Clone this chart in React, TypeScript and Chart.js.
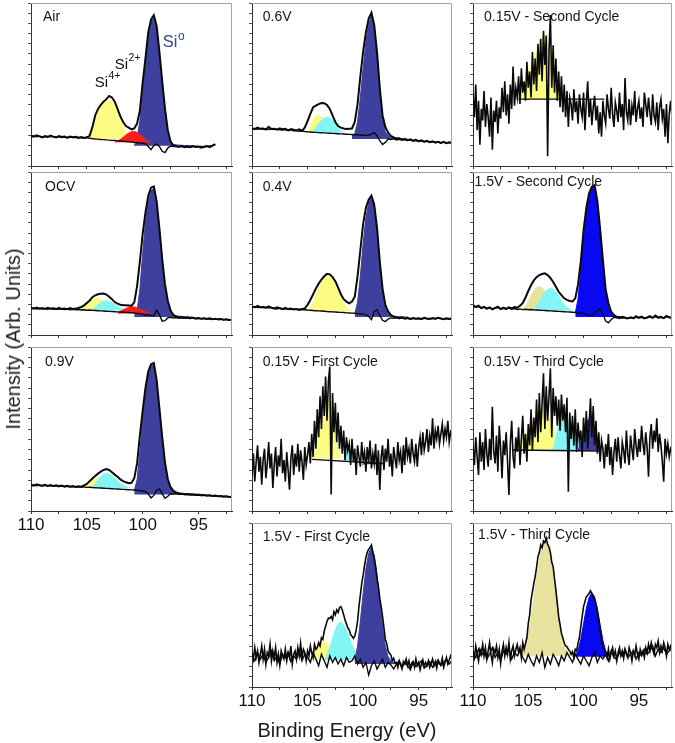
import React, { useEffect, useRef } from "react";
import { Chart, registerables } from "chart.js";
Chart.register(...registerables);

const FONT = '"Liberation Sans", Arial, Helvetica, sans-serif';
Chart.defaults.font.family = FONT;

// ---------- DATA ----------
// Binding-energy grids (eV)
const E: number[] = [110, 109.75, 109.5, 109.25, 109, 108.75, 108.5, 108.25, 108, 107.75, 107.5, 107.25, 107, 106.75, 106.5, 106.25, 106, 105.75, 105.5, 105.25, 105, 104.75, 104.5, 104.25, 104, 103.75, 103.5, 103.25, 103, 102.75, 102.5, 102.25, 102, 101.75, 101.5, 101.25, 101, 100.75, 100.5, 100.25, 100, 99.75, 99.5, 99.25, 99, 98.75, 98.5, 98.25, 98, 97.75, 97.5, 97.25, 97, 96.75, 96.5, 96.25, 96, 95.75, 95.5, 95.25, 95, 94.75, 94.5, 94.25, 94, 93.75, 93.5, 93.25, 93, 92.75, 92.5, 92.25, 92];
const EF: number[] = [
  110, 109.875, 109.75, 109.625, 109.5, 109.375, 109.25, 109.125,
  109, 108.875, 108.75, 108.625, 108.5, 108.375, 108.25, 108.125,
  108, 107.875, 107.75, 107.625, 107.5, 107.375, 107.25, 107.125,
  107, 106.875, 106.75, 106.625, 106.5, 106.375, 106.25, 106.125,
  106, 105.875, 105.75, 105.625, 105.5, 105.375, 105.25, 105.125,
  105, 104.875, 104.75, 104.625, 104.5, 104.375, 104.25, 104.125,
  104, 103.875, 103.75, 103.625, 103.5, 103.375, 103.25, 103.125,
  103, 102.875, 102.75, 102.625, 102.5, 102.375, 102.25, 102.125,
  102, 101.875, 101.75, 101.625, 101.5, 101.375, 101.25, 101.125,
  101, 100.875, 100.75, 100.625, 100.5, 100.375, 100.25, 100.125,
  100, 99.875, 99.75, 99.625, 99.5, 99.375, 99.25, 99.125,
  99, 98.875, 98.75, 98.625, 98.5, 98.375, 98.25, 98.125,
  98, 97.875, 97.75, 97.625, 97.5, 97.375, 97.25, 97.125,
  97, 96.875, 96.75, 96.625, 96.5, 96.375, 96.25, 96.125,
  96, 95.875, 95.75, 95.625, 95.5, 95.375, 95.25, 95.125,
  95, 94.875, 94.75, 94.625, 94.5, 94.375, 94.25, 94.125,
  94, 93.875, 93.75, 93.625, 93.5, 93.375, 93.25, 93.125,
  93, 92.875, 92.75, 92.625, 92.5, 92.375, 92.25, 92.125,
  92];

const X_TICK_LABELS = [110, 105, 100, 95];

// Air
const airRaw = [18.5, 18.0, 18.8, 18.2, 17.6, 18.4, 17.9, 18.6, 18.0, 17.5, 18.3, 17.8, 18.1, 17.4, 18.0, 17.6, 17.9, 17.3, 17.8, 17.2, 17.6, 18.5, 24, 31, 35, 37.5, 39.5, 41, 43, 42, 39.5, 35, 30.5, 27, 24.5, 23.5, 22.5, 23, 26, 34, 51, 66, 82, 90, 92.6, 86, 70, 52, 35, 22, 15, 12.5, 12, 11.8, 12.3, 11.6, 12.0, 11.5, 12.2, 11.7, 11.9, 11.3, 11.8, 12.2, 11.6, 12.5, 13.5, null, null, null, null, null, null];
const airBase = [18.2, 18.5, 18.0, 18.3, 17.8, 18.1, 17.7, 18.2, 17.9, 17.6, 18.0, 17.5, 17.8, 17.3, 17.7, 17.4, 17.6, 17.2, 17.5, 17.1, 17.4, 17.0, 16.8, 16.6, 16.5, 16.3, 16.2, 16.0, 15.9, 15.7, 15.6, 15.4, 15.3, 15.1, 15.0, 14.8, 14.7, 14.5, 14.3, 14.2, 14.0, 13.6, 12.0, 10.0, 12.5, 13.5, 12.0, 9.0, 8.2, 11.0, 12.3, 12.0, 12.2, 11.9, 12.1, 11.8, 12.0, 11.7, 11.9, 12.1, 11.8, 12.0, 11.7, 12.1, 12.3, 12.6, 13.2, null, null, null, null, null, null];
const airSi4 = [16.5, 22, 29, 33.5, 36.5, 38.5, 40, 40.5, 39.5, 36.5, 32.5, 28, 24, 20.5, 18.5, 17.2, 16.5];
const airSi2 = [14.5, 15.2, 16.3, 17.6, 19, 20.2, 21, 21.2, 20.6, 19.4, 17.8, 16.3, 15.2, 14.5];
const airSi0 = [12.5, 17, 28, 46, 62, 79, 88, 91.5, 85, 69, 51, 34, 21, 15, 13.3, 13, 12.8, 12.7, 12.6, 12.6, 12.5, 12.5];

// OCV
const ocvRaw = [16.6, 16.2, 16.8, 16.1, 16.5, 16.0, 16.7, 16.2, 16.4, 15.9, 16.6, 16.0, 16.3, 15.8, 16.5, 16.0, 16.2, 16.6, 17.2, 18.2, 19.6, 21.2, 23.2, 24.3, 25.0, 25.3, 25.4, 24.8, 23.5, 22, 20.2, 19.2, 18.6, 18.3, 18.2, 18.1, 18.0, 20, 30, 45, 62, 75, 85.5, 90.4, 91.2, 82, 65.4, 46.5, 31, 21, 15, 12.3, 11.2, 10.8, 11.0, 10.5, 10.7, 10.3, 10.6, 10.2, 10.4, 10.0, 10.3, 9.9, 10.2, 9.7, 10.0, 9.6, 9.8, 9.4, 9.7, 9.2, 9.4];
const ocvBase = [16.2, 16.5, 16.0, 16.4, 15.9, 16.3, 15.8, 16.2, 15.8, 16.1, 15.7, 16.0, 15.6, 15.9, 15.5, 15.8, 15.4, 15.6, 15.3, 15.5, 15.2, 15.3, 15.1, 15.0, 14.9, 14.8, 14.7, 14.6, 14.5, 14.4, 14.3, 14.2, 14.1, 14.0, 13.9, 13.8, 13.7, 13.5, 13.3, 13.1, 12.8, 12.3, 12.5, 12.0, 11.8, 15.2, 12.5, 8.5, 8.8, 10.5, 10.8, 10.4, 10.7, 10.3, 10.6, 10.2, 10.5, 10.1, 10.4, 10.0, 10.3, 9.9, 10.2, 9.8, 10.0, 9.6, 9.9, 9.5, 9.7, 9.3, 9.6, 9.1, 9.3];
const ocvSi4 = [15.5, 16, 16.8, 17.8, 19, 20.3, 21.5, 22.3, 22.5, 22, 21, 19.5, 18, 16.8, 16, 15.5];
const ocvSix = [15, 15.8, 17, 18.5, 19.8, 20.7, 21, 20.6, 19.8, 18.8, 17.6, 16.6, 15.8, 15.2, 15];
const ocvSi2 = [13.2, 14.5, 15.5, 16.3, 17, 17.4, 17.2, 16.6, 15.8, 15, 14.2, 13.6, 13.2];
const ocvSi0 = [11.5, 15, 28, 50, 69, 82, 88.5, 90, 81, 64, 45, 29.5, 19.5, 14, 12.3, 11.8, 11.6, 11.4, 11.3, 11.2, 11.1, 11.0];

// 0.9V
const v09Raw = [15.9, 15.5, 16.2, 15.7, 15.4, 16.0, 15.3, 15.8, 15.2, 15.7, 15.1, 15.5, 15.0, 15.4, 14.8, 15.2, 14.7, 15.1, 14.8, 15.6, 16.5, 18.2, 19.8, 21.3, 22.8, 24, 25, 25.6, 25, 23.6, 22.2, 20.9, 19.3, 18.2, 17.5, 17.0, 17.2, 20, 29, 46, 61, 75, 85, 89.5, 90.3, 80, 62.6, 45, 29.5, 19.5, 14.5, 12.3, 11.3, 10.7, 10.5, 10.2, 10.4, 10.0, 10.1, 9.8, 9.9, 9.6, 9.8, 9.4, 9.6, 9.2, 9.4, 9.0, 9.1, 8.8, 9.0, 8.6, 8.7];
const v09Base = [15.6, 15.9, 15.4, 15.8, 15.3, 15.7, 15.2, 15.5, 15.1, 15.4, 14.9, 15.2, 14.8, 15.1, 14.7, 14.9, 14.6, 14.8, 14.5, 14.7, 14.4, 14.5, 14.3, 14.2, 14.1, 14.0, 13.9, 13.8, 13.7, 13.6, 13.5, 13.4, 13.3, 13.2, 13.1, 13.0, 12.9, 12.8, 12.6, 12.4, 12.2, 11.8, 10.5, 8.0, 9.5, 12.5, 13.5, 10.5, 7.8, 9.0, 10.5, 10.3, 10.6, 10.2, 10.4, 10.0, 10.2, 9.8, 10.0, 9.7, 9.8, 9.5, 9.7, 9.3, 9.5, 9.1, 9.3, 8.9, 9.0, 8.7, 8.9, 8.5, 8.6];
const v09Si4 = [14.5, 15.3, 16.5, 17.8, 19, 19.8, 19.9, 19.3, 18.3, 17, 15.8, 15, 14.5];
const v09Six = [14, 15, 16.8, 19, 21, 22.5, 23, 22.6, 21.5, 20, 18.4, 17, 15.8, 14.8, 14.2, 14];
const v09Si0 = [12.5, 19, 36, 56, 72, 83, 88.5, 89.5, 79, 61, 43, 28, 18.5, 13.8, 12, 11.3, 11, 10.8, 10.7, 10.6, 10.5, 10.4, 10.3, 10.2, 10.1, 10];

// 0.6V
const v06Raw = [23.2, 22.6, 23.5, 22.8, 23.0, 22.4, 24.0, 22.7, 22.9, 22.3, 23.1, 22.5, 22.8, 21.9, 22.6, 22.2, 21.8, 22.5, 21.6, 23.5, 27.5, 32, 36, 37, 38, 38.6, 38.5, 37.5, 35, 31, 27, 24.5, 23.5, 23, 22.7, 22.9, 23, 27, 38, 55, 70, 82, 90.5, 94, 86.5, 70, 48, 31, 24, 20.5, 18.5, 17.5, 16.8, 17.0, 16.2, 16.6, 15.8, 16.3, 15.5, 16.0, 15.2, 15.8, 14.9, 15.4, 14.6, 15.1, 14.4, 14.9, 14.2, 14.8, 14.0, 14.5, 14.3];
const v06Base = [22.8, 23.1, 22.5, 23.0, 22.6, 22.9, 22.4, 22.7, 22.3, 22.6, 22.2, 22.0, 22.3, 21.8, 22.0, 21.6, 21.7, 21.3, 21.5, 21.2, 21.0, 20.9, 20.7, 20.6, 20.5, 20.4, 20.3, 20.2, 20.1, 20.0, 19.9, 19.8, 19.7, 19.6, 19.5, 19.4, 19.3, 19.2, 19.1, 19.0, 18.9, 18.8, 18.9, 19.5, 20.5, 18.5, 15.5, 13.2, 14.5, 16.5, 16.2, 16.6, 16.0, 16.4, 15.9, 16.2, 15.6, 16.0, 15.4, 15.8, 15.0, 15.5, 14.8, 15.2, 14.5, 14.9, 14.3, 14.7, 14.1, 14.6, 14.0, 14.4, 14.2];
const v06Si4 = [20.8, 24, 28.5, 31, 31.5, 30, 27.5, 24.5, 22.5, 21.3, 20.8];
const v06Six = [20.5, 21.5, 23.5, 26, 28, 29.5, 30, 29.5, 28, 26, 23.5, 21.5, 20.5];
const v06Si0 = [18.5, 20, 27, 42, 60, 76, 87, 92.5, 85.5, 68, 46, 29, 21, 18.8, 18, 17.6, 17.3, 17, 16.8, 16.6, 16.5];

// 0.4V
const v04Raw = [17.4, 17.0, 17.8, 16.9, 17.3, 16.6, 17.5, 16.8, 16.2, 17.0, 16.4, 15.8, 16.6, 15.9, 16.3, 15.6, 16.0, 15.4, 15.9, 16.3, 18.5, 21.5, 25, 28.6, 31.5, 34, 36, 37.5, 37.2, 35.5, 33, 29, 25, 22, 20.5, 19.4, 20.5, 23.5, 36, 52, 68, 78, 83, 85.5, 80, 66, 45, 28.5, 18.5, 14.5, 12.3, 11.2, 10.8, 10.3, 10.7, 10.1, 10.5, 9.9, 10.4, 10.0, 10.3, 9.8, 10.5, 10.1, 9.9, 10.4, 10.0, 10.6, 10.2, 9.7, 10.3, 9.9, 10.1];
const v04Base = [17.0, 17.4, 16.8, 17.2, 16.7, 17.1, 16.5, 16.9, 16.4, 16.0, 16.5, 16.1, 15.9, 16.2, 15.7, 16.0, 15.6, 15.8, 15.4, 15.5, 15.3, 15.2, 15.0, 14.9, 14.8, 14.7, 14.6, 14.4, 14.3, 14.2, 14.1, 14.0, 13.9, 13.8, 13.6, 13.5, 13.4, 13.3, 13.1, 13.0, 12.8, 12.5, 11.5, 9.5, 14.5, 15.5, 12.0, 9.0, 8.2, 9.8, 10.5, 10.2, 10.6, 10.1, 10.5, 10.0, 10.3, 9.8, 10.2, 9.9, 10.1, 9.7, 10.3, 9.9, 9.8, 10.2, 9.9, 10.4, 10.0, 9.6, 10.1, 9.8, 10.0];
const v04Si4 = [14.5, 16.5, 20, 24.5, 28.5, 32, 34.5, 36, 36.3, 35, 32, 27.5, 23, 19.5, 17, 15.5, 14.8, 14.5];
const v04Si0 = [13, 20, 36, 56, 72, 81, 84.5, 79, 65, 44, 27, 17.5, 13.5, 12, 11.6, 11.4, 11.3, 11.2, 11.1, 11];

// 0.15V - First Cycle
const c1lowRaw = [
  22, 35, 18, 30, 40, 24, 33, 16,
  31, 38, 20, 29, 42, 26, 35, 14,
  28, 39, 21, 34, 27, 44, 23, 31,
  18, 36, 25, 13, 32, 40, 22, 35,
  27, 41, 24, 37, 30, 19, 39, 28,
  34, 42, 29, 47, 33, 55, 38, 62,
  45, 70, 50, 76, 58, 82, 55, 79,
  88, 10, 72, 48, 66, 42, 60, 38,
  52, 35, 49, 31, 45, 37, 41, 28,
  44, 30, 38, 22, 40, 33, 27, 42,
  31, 36, 24, 39, 30, 43, 26, 35,
  29, 41, 22, 37, 12.8, 33, 40, 25,
  38, 30, 44, 27, 35, 21, 39, 32,
  26, 42, 31, 36, 23, 40, 28, 45,
  33, 38, 29, 44, 35, 30, 41, 27,
  39, 45, 34, 48, 37, 42, 50, 36,
  46, 40, 56.5, 38, 49, 44, 52, 41,
  47, 53, 43, 50, 45, 55, 42, 48,
  46];
const c1lowBaseE = [104.6, 98.2];
const c1lowBase = [31.5, 29];
const c1lowSi4 = [32, 37, 45, 53, 60, 66, 67.5, 60, 48, 38, 32];
const c1lowSix = [31, 40, 36, 31];
const c1lowSi0 = [28.5, 29.5, 30, 29.8, 29.3, 28.8, 28.5];

// 1.5V - First Cycle
const c1highRaw = [
  21, 17, 24, 18, 22, 15, 20, 25,
  17, 23, 14, 21, 19, 26, 16, 22,
  18, 24, 15, 20, 13.5, 22, 19, 17,
  23, 16, 21, 18, 25, 14, 20, 22,
  17, 24, 19, 26.6, 18, 23, 21, 16,
  22, 19, 25, 21, 18, 26, 23, 24,
  27, 25, 30, 29, 34, 37, 40, 42,
  41.9, 43, 41, 45.9, 44, 47, 45.5, 48.5,
  49, 47, 44, 40.9, 38.5, 36, 34.8, 32,
  31, 29.7, 31, 34.8, 40, 49, 56, 63.2,
  68, 74, 79, 82, 84, 85, 86.5, 82,
  78.4, 73, 66, 61.2, 54, 49, 42.9, 36,
  29, 26.6, 22, 20.5, 19.5, 16, 17.5, 14.5,
  15, 12, 16, 13.5, 11, 15.5, 14, 17,
  13, 16, 11.5, 14.5, 15.5, 12, 17, 13,
  15, 10.5, 14, 16.5, 12.5, 15, 13, 16,
  12, 14.5, 17, 13, 15.5, 11.5, 16, 14,
  13.5, 17.5, 12, 15, 18, 14, 16.5, 19,
  17];
const c1highBase = [19, 16, 21, 17, 20, 15, 18, 22, 16, 19, 14, 20, 18, 21, 15.5, 19, 17, 22, 16, 20, 18, 15, 21, 17, 13, 20, 16, 12, 19, 15, 18, 14, 17, 13, 18, 15, 16, 19, 14, 17, 12, 15, 7.3, 13, 16, 11, 14, 17, 12, 15, 13.5, 11, 14, 16, 12, 15, 13, 10.5, 15, 12.5, 14, 16, 11.5, 13, 15.5, 12, 14, 16.5, 13, 15, 17, 14, 16];
const c1highSi4 = [17.5, 19.5, 22.5, 25.5, 27.2, 27.6, 26.5, 24.5, 22, 19.8, 18.3, 17.5];
const c1highSix = [16.5, 19.5, 24, 29.5, 35, 38.5, 39.8, 38, 34.5, 30, 26, 22.5, 20, 18.2, 17.2, 16.7, 16.5];
const c1highSi0 = [16, 25, 40, 57, 72, 81.5, 85, 80.5, 69, 53, 37, 25, 18.5, 15.8, 14.8, 14.4, 14.2, 14];

// 0.15V - Second Cycle
const c2lowRaw = [
  44, 30, 50, 22, 40, 13, 35, 28,
  46, 24, 38, 30, 18, 42, 10, 34,
  27, 40, 20, 36, 29, 48, 33, 52,
  31, 44, 26, 50, 35, 61, 37, 48,
  42, 55, 38, 60, 45, 52, 40, 64,
  48, 58, 42, 70, 50, 66, 46, 75,
  56, 78, 52, 83, 62, 80, 6, 70,
  92.6, 48, 74, 45, 66, 40, 58, 36,
  55, 33, 50, 30, 46, 24, 42, 38,
  28, 47, 33, 40, 26, 44, 35, 30,
  45, 22, 39, 52, 30, 41, 25, 36,
  43, 28, 37, 20, 33, 18, 40, 31,
  26, 44, 35, 29, 48, 32, 24, 39,
  34, 27, 45, 30, 38, 22, 54, 33,
  28, 41, 25, 37, 31, 46, 27, 35,
  40, 29, 36, 24, 45, 38, 30, 42,
  33, 25, 44, 31, 27, 39, 22, 36,
  41, 29, 35, 18, 38, 14, 32, 40,
  30];
const c2lowBaseE = [105.9, 98.1];
const c2lowBase = [41, 41];
const c2lowSi4 = [41, 44, 48, 52.5, 57, 61.5, 66, 70.5, 75, 79, 81, 75, 66, 57, 49, 43, 41];

// 1.5V - Second Cycle
const c2highRaw = [18.4, 17.2, 18.0, 16.5, 17.3, 16.2, 16.9, 15.8, 16.6, 17.4, 15.9, 16.8, 16.0, 16.9, 16.3, 17.2, 16.8, 17.9, 19.6, 23, 27, 30.5, 33.5, 35.5, 36.8, 37.4, 37.8, 36.8, 35, 32.5, 29.6, 26.5, 24.5, 22.5, 21.5, 20.8, 20.6, 22.5, 31, 45, 64, 78, 87, 91, 92, 82, 65, 46, 28, 19.5, 14.3, 12.2, 11.0, 10.4, 11.2, 10.6, 10.1, 10.9, 10.3, 11.5, 10.6, 11.3, 10.2, 10.8, 11.6, 10.5, 11.9, 10.7, 11.2, 10.4, 11.7, 10.9, 10.5];
const c2highBase = [17.8, 17.0, 17.5, 16.4, 17.1, 16.3, 16.7, 15.9, 16.5, 16.9, 16.0, 16.4, 15.9, 16.5, 15.8, 16.2, 15.7, 16.0, 15.6, 15.8, 15.5, 15.6, 15.4, 15.3, 15.2, 15.1, 15.0, 14.9, 14.8, 14.7, 14.6, 14.5, 14.4, 14.3, 14.2, 14.1, 14.0, 13.8, 13.6, 13.4, 13.2, 12.8, 11.8, 12.0, 13.5, 15.0, 16.2, 13.0, 8.5, 7.5, 9.5, 10.8, 10.5, 11.0, 10.3, 10.8, 10.2, 10.7, 10.1, 11.0, 10.4, 10.9, 10.2, 10.6, 11.1, 10.4, 11.3, 10.6, 10.9, 10.3, 11.2, 10.7, 10.4];
const c2highSi4 = [15.5, 17.5, 20.5, 24, 27, 29, 29.6, 29, 27.2, 24.5, 21.5, 19, 17.2, 16, 15.5];
const c2highSix = [15, 16, 18, 20.5, 23.5, 26.3, 28, 28.6, 28, 26.3, 23.8, 21, 18.6, 16.8, 15.6, 15];
const c2highSi0 = [13.5, 22, 40, 60, 76, 86, 90.5, 91, 81, 63, 44, 27, 17.5, 13.5, 12, 11.5, 11.2, 11.1, 11];

// 0.15V - Third Cycle
const c3lowRaw = [
  40, 28, 45, 33, 22, 48, 30, 42,
  25, 50, 35, 27, 44, 31, 63.6, 36,
  29, 46, 24, 52, 38, 20, 43, 34,
  48, 30, 9.8, 41, 55, 33, 26, 45,
  36, 51, 28, 44, 58, 35, 47, 30,
  53, 40, 62, 37, 57, 45, 68, 42,
  72, 48, 66, 84, 50, 76, 55, 70,
  87, 45, 75, 58, 70, 52, 68, 49,
  71, 55, 65, 48, 69, 11.8, 60, 44,
  58, 40, 62, 36, 54, 43, 49, 33,
  57, 42, 61, 38, 52, 68.7, 45, 64,
  40, 55, 35, 48, 30, 43, 38, 26,
  41, 33, 47, 28, 39, 22, 36, 44,
  30, 45, 34, 26, 42, 37, 29, 49,
  35, 28, 46, 38, 31, 50, 40, 33,
  44, 36, 52, 41, 34, 48, 39, 20.9,
  45, 53, 38, 49, 42, 56.5, 36, 47,
  40, 30, 17.9, 44, 35, 41, 33, 38,
  36];
const c3lowBaseE = [106.4, 98.6];
const c3lowBase = [37.2, 36.6];
const c3lowSi4 = [37, 38.5, 40.5, 42.5, 44.5, 46.5, 49, 51.5, 54, 56.5, 59, 61, 62.6, 59, 55, 51, 47.5, 44, 41, 39, 37.5, 37];
const c3lowSix = [37, 45, 53, 58, 60.5, 58, 54, 50, 46, 43, 40, 38, 37];
const c3lowSi0 = [37, 42, 48, 54, 56.5, 53, 47, 41, 37];

// 1.5V - Third Cycle
const c3highRaw = [
  22, 18, 25, 20, 16, 23, 21, 26,
  19, 24, 17, 22, 27, 20, 15, 23,
  21, 25, 18, 23, 14.5, 22, 26, 19,
  24, 20, 27, 17, 22, 25, 19, 23,
  26, 21, 24, 18, 27, 23, 26.6, 30,
  38.8, 44, 53, 58, 63, 67.3, 73, 79.5,
  82, 86.6, 85, 89, 88, 90.7, 87, 85.4,
  82, 76, 73.4, 66, 59.1, 51, 42.9, 38,
  32.7, 30, 27, 25, 24.6, 23, 22, 20,
  21.5, 18, 23, 22, 26.6, 30, 36.8, 43,
  49, 52, 55, 56, 57, 58.7, 57, 55,
  53, 50, 45, 40.9, 35, 28.7, 25, 22,
  21.5, 18, 23, 17, 21, 24, 19, 22,
  16, 21, 24, 19, 22, 17.5, 23, 20,
  18, 24, 21, 16, 22, 19.5, 25, 20,
  17, 23, 20, 22, 18, 24, 21, 26,
  22, 27, 23, 20, 26, 24, 28, 21,
  25, 22, 27, 24, 19, 26, 23, 25,
  22];
const c3highBase = [21, 18, 23, 19, 22, 17, 20, 24, 18, 21, 16, 22, 20, 23, 17, 21, 19, 22, 18, 15, 20, 16, 13, 19, 15, 21, 12, 18, 14, 20, 17, 13, 19, 16, 21, 18, 15, 20, 17, 14, 19, 16, 13, 18, 21, 15, 19, 17, 20, 16, 22, 18, 17, 21, 19, 23, 18, 20, 22, 17, 21, 19, 23, 20, 22, 25, 19, 23, 21, 24, 20, 22, 23];
const c3highSi4 = [19, 21, 25, 32, 42, 54, 66, 77, 85, 88.5, 87.5, 81, 70, 56, 43, 32, 25, 21.5, 19.8, 19];
const c3highSi0 = [19, 22, 29, 38.5, 48, 54.5, 57.5, 55, 48, 38, 28.5, 22, 19.5, 18.5];

// ---------- STYLE / LAYOUT ----------
const C = {
  navy: "#3d409f",
  yellow: "#fcfc82",
  cyan: "#84f5f5",
  red: "#ff1c1c",
  khaki: "#e7e29d",
  blue: "#0808f2",
};

type Comp = { start: number; base: number; vals: number[]; color: string };
type Note = { e: number; v: number; text: string; sup: string; size: number; supSize: number; rise: number; color: string };
type PanelCfg = {
  title: string; tx: number; ty: number;
  left: number; top: number; w: number; h: number; labels: boolean;
  grid: number[]; raw: (number | null)[]; rawWidth: number;
  baseX: number[] | null; baseY: (number | null)[] | null;
  comps: Comp[]; notes?: Note[];
};

const COLX = [31, 252, 473];
const COLW = [201, 200, 199];
const ROWY = [3, 172, 347, 523];
const ROWH = [163, 163, 164, 164];

const SMOOTH_W = 2;
const NOISY_W = 1.6;

const PANELS: PanelCfg[] = [
  {
    title: "Air", tx: 12, ty: 14, left: COLX[0], top: ROWY[0], w: COLW[0], h: ROWH[0], labels: false,
    grid: E, raw: airRaw, rawWidth: SMOOTH_W, baseX: E, baseY: airBase,
    comps: [
      { start: 102.5, base: 14.5, vals: airSi2, color: C.red },
      { start: 100.75, base: 12.5, vals: airSi0, color: C.navy },
      { start: 104.75, base: 16.5, vals: airSi4, color: C.yellow },
    ],
    notes: [
      { e: 104.3, v: 48.3, text: "Si", sup: "4+", size: 15, supSize: 10.5, rise: 8, color: "#111" },
      { e: 102.5, v: 59.3, text: "Si", sup: "2+", size: 15, supSize: 10.5, rise: 8, color: "#111" },
      { e: 98.2, v: 73.2, text: "Si", sup: "o", size: 16.5, supSize: 12, rise: 7, color: "#2b4a8c" },
    ],
  },
  {
    title: "OCV", tx: 14, ty: 15.5, left: COLX[0], top: ROWY[1], w: COLW[0], h: ROWH[1], labels: false,
    grid: E, raw: ocvRaw, rawWidth: SMOOTH_W, baseX: E, baseY: ocvBase,
    comps: [
      { start: 102.25, base: 13.2, vals: ocvSi2, color: C.red },
      { start: 100.75, base: 11, vals: ocvSi0, color: C.navy },
      { start: 104.75, base: 15, vals: ocvSix, color: C.cyan },
      { start: 106, base: 15.5, vals: ocvSi4, color: C.yellow },
    ],
  },
  {
    title: "0.9V", tx: 14, ty: 14.7, left: COLX[0], top: ROWY[2], w: COLW[0], h: ROWH[2], labels: true,
    grid: E, raw: v09Raw, rawWidth: SMOOTH_W, baseX: E, baseY: v09Base,
    comps: [
      { start: 100.75, base: 10, vals: v09Si0, color: C.navy },
      { start: 104.75, base: 14, vals: v09Six, color: C.cyan },
      { start: 105.5, base: 14.5, vals: v09Si4, color: C.yellow },
    ],
  },
  {
    title: "0.6V", tx: 10.7, ty: 13.7, left: COLX[1], top: ROWY[0], w: COLW[1], h: ROWH[0], labels: false,
    grid: E, raw: v06Raw, rawWidth: SMOOTH_W, baseX: E, baseY: v06Base,
    comps: [
      { start: 101, base: 16.5, vals: v06Si0, color: C.navy },
      { start: 104.75, base: 20.5, vals: v06Six, color: C.cyan },
      { start: 105, base: 20.8, vals: v06Si4, color: C.yellow },
    ],
  },
  {
    title: "0.4V", tx: 10.7, ty: 14.7, left: COLX[1], top: ROWY[1], w: COLW[1], h: ROWH[1], labels: false,
    grid: E, raw: v04Raw, rawWidth: SMOOTH_W, baseX: E, baseY: v04Base,
    comps: [
      { start: 100.75, base: 11, vals: v04Si0, color: C.navy },
      { start: 105, base: 14.5, vals: v04Si4, color: C.yellow },
    ],
  },
  {
    title: "0.15V - First Cycle", tx: 10.7, ty: 14.7, left: COLX[1], top: ROWY[2], w: COLW[1], h: ROWH[2], labels: false,
    grid: EF, raw: c1lowRaw, rawWidth: NOISY_W, baseX: c1lowBaseE, baseY: c1lowBase,
    comps: [
      { start: 100, base: 28.5, vals: c1lowSi0, color: C.navy },
      { start: 101.75, base: 31, vals: c1lowSix, color: C.cyan },
      { start: 104.5, base: 32, vals: c1lowSi4, color: C.yellow },
    ],
  },
  {
    title: "1.5V - First Cycle", tx: 10.7, ty: 14, left: COLX[1], top: ROWY[3], w: COLW[1], h: ROWH[3], labels: true,
    grid: EF, raw: c1highRaw, rawWidth: NOISY_W, baseX: E, baseY: c1highBase,
    comps: [
      { start: 100.75, base: 14, vals: c1highSi0, color: C.navy },
      { start: 103.5, base: 16.5, vals: c1highSix, color: C.cyan },
      { start: 104.75, base: 17.5, vals: c1highSi4, color: C.yellow },
    ],
  },
  {
    title: "0.15V - Second Cycle", tx: 11, ty: 14, left: COLX[2], top: ROWY[0], w: COLW[2], h: ROWH[0], labels: false,
    grid: EF, raw: c2lowRaw, rawWidth: NOISY_W, baseX: c2lowBaseE, baseY: c2lowBase,
    comps: [{ start: 106, base: 41, vals: c2lowSi4, color: C.yellow }],
  },
  {
    title: "1.5V - Second Cycle", tx: 1.5, ty: 10.3, left: COLX[2], top: ROWY[1], w: COLW[2], h: ROWH[1], labels: false,
    grid: E, raw: c2highRaw, rawWidth: SMOOTH_W, baseX: E, baseY: c2highBase,
    comps: [
      { start: 100.75, base: 11, vals: c2highSi0, color: C.blue },
      { start: 104.75, base: 15, vals: c2highSix, color: C.cyan },
      { start: 105.5, base: 15.5, vals: c2highSi4, color: C.khaki },
    ],
  },
  {
    title: "0.15V - Third Cycle", tx: 11, ty: 14.7, left: COLX[2], top: ROWY[2], w: COLW[2], h: ROWH[2], labels: false,
    grid: EF, raw: c3lowRaw, rawWidth: NOISY_W, baseX: c3lowBaseE, baseY: c3lowBase,
    comps: [
      { start: 100.5, base: 37, vals: c3lowSi0, color: C.navy },
      { start: 102.75, base: 37, vals: c3lowSix, color: C.cyan },
      { start: 106.5, base: 37, vals: c3lowSi4, color: C.yellow },
    ],
  },
  {
    title: "1.5V - Third Cycle", tx: 5, ty: 12, left: COLX[2], top: ROWY[3], w: COLW[2], h: ROWH[3], labels: true,
    grid: EF, raw: c3highRaw, rawWidth: NOISY_W, baseX: E, baseY: c3highBase,
    comps: [
      { start: 100.75, base: 18.5, vals: c3highSi0, color: C.blue },
      { start: 105.75, base: 19, vals: c3highSi4, color: C.khaki },
    ],
  },
];

function pts(xs: number[], ys: (number | null)[]) {
  return ys.map((y, i) => ({ x: xs[i], y }));
}
function compPts(start: number, vals: number[]) {
  const i0 = E.indexOf(start);
  return vals.map((v, k) => ({ x: E[i0 + k], y: v }));
}

const PAD_L = 18, PAD_R = 14, PAD_T = 2;

function Panel({ p }: { p: PanelCfg }) {
  const ref = useRef<HTMLCanvasElement | null>(null);
  const axisH = p.labels ? 30 : 5;
  const cw = p.w + PAD_L + PAD_R;
  const ch = p.h + PAD_T + axisH;
  useEffect(() => {
    const datasets: any[] = [];
    datasets.push({ data: pts(p.grid, p.raw), borderColor: "#0a0a0a", borderWidth: p.rawWidth, pointRadius: 0, fill: false, spanGaps: false });
    if (p.baseX && p.baseY) {
      datasets.push({ data: pts(p.baseX, p.baseY), borderColor: "#0a0a0a", borderWidth: 1.4, pointRadius: 0, fill: false, spanGaps: false });
    }
    for (const c of p.comps) {
      datasets.push({ data: compPts(c.start, c.vals), borderColor: c.color, borderWidth: 1, backgroundColor: c.color, fill: { value: c.base }, pointRadius: 0 });
    }
    const decor = {
      id: "decor",
      afterDraw(chart: any) {
        const ctx = chart.ctx;
        const a = chart.chartArea;
        ctx.save();
        ctx.strokeStyle = "#a3a3a3";
        ctx.lineWidth = 1;
        ctx.beginPath();
        ctx.moveTo(a.left, a.top + 0.5);
        ctx.lineTo(a.right - 0.5, a.top + 0.5);
        ctx.lineTo(a.right - 0.5, a.bottom);
        ctx.stroke();
        ctx.fillStyle = "#151515";
        ctx.font = `14px ${FONT}`;
        ctx.textBaseline = "middle";
        ctx.textAlign = "left";
        ctx.fillText(p.title, a.left + p.tx, a.top + p.ty);
        for (const n of p.notes || []) {
          const x = chart.scales.x.getPixelForValue(n.e);
          const y = chart.scales.y.getPixelForValue(n.v);
          ctx.fillStyle = n.color;
          ctx.textBaseline = "alphabetic";
          ctx.font = `${n.size}px ${FONT}`;
          ctx.fillText(n.text, x, y);
          const w = ctx.measureText(n.text).width;
          ctx.font = `${n.supSize}px ${FONT}`;
          ctx.fillText(n.sup, x + w + 0.5, y - n.rise);
        }
        ctx.restore();
      },
    };
    const chart = new Chart(ref.current as HTMLCanvasElement, {
      type: "line",
      data: { datasets },
      options: {
        animation: false,
        responsive: false,
        maintainAspectRatio: false,
        events: [],
        layout: { padding: { left: PAD_L - 4, right: PAD_R, top: PAD_T, bottom: 0 } },
        plugins: { legend: { display: false }, tooltip: { enabled: false }, title: { display: false } },
        elements: { line: { tension: 0 } },
        scales: {
          x: {
            type: "linear",
            reverse: true,
            min: 92,
            max: 110,
            border: { display: true, color: "#333", width: 1 },
            grid: { display: true, drawOnChartArea: false, drawTicks: true, tickLength: 3, color: "#333" },
            ticks: {
              display: p.labels,
              stepSize: 2.5,
              includeBounds: false,
              autoSkip: false,
              maxRotation: 0,
              padding: 1,
              color: "#111",
              font: { size: 17, family: FONT },
              callback: (v: any) => (X_TICK_LABELS.includes(Number(v)) ? String(v) : ""),
            },
            afterFit: (s: any) => { s.height = axisH; },
          },
          y: {
            type: "linear",
            min: 0,
            max: 100,
            border: { display: true, color: "#333", width: 1 },
            grid: { display: true, drawOnChartArea: false, drawTicks: true, tickLength: 3, color: "#555" },
            ticks: { display: false, stepSize: 6.25 },
            afterFit: (s: any) => { s.width = 4; },
          },
        },
      },
      plugins: [decor],
    } as any);
    return () => chart.destroy();
  }, []);
  return (
    <canvas
      ref={ref}
      width={cw}
      height={ch}
      style={{ position: "absolute", left: p.left - PAD_L, top: p.top - PAD_T, width: cw, height: ch }}
    />
  );
}

export default function App() {
  return (
    <div style={{ position: "absolute", left: 0, top: 0, width: 675, height: 743, background: "#fff", overflow: "hidden", fontFamily: FONT }}>
      {PANELS.map((p, i) => (
        <Panel key={i} p={p} />
      ))}
      <div
        style={{
          position: "absolute", left: 13, top: 339, transform: "translate(-50%, -50%) rotate(-90deg)",
          whiteSpace: "nowrap", fontSize: 20, color: "#1a1a1a", lineHeight: "20px",
        }}
      >
        Intensity (Arb. Units)
      </div>
      <div
        style={{
          position: "absolute", left: 347, top: 730, transform: "translate(-50%, -50%)",
          whiteSpace: "nowrap", fontSize: 20, color: "#1a1a1a", lineHeight: "20px",
        }}
      >
        Binding Energy (eV)
      </div>
    </div>
  );
}
